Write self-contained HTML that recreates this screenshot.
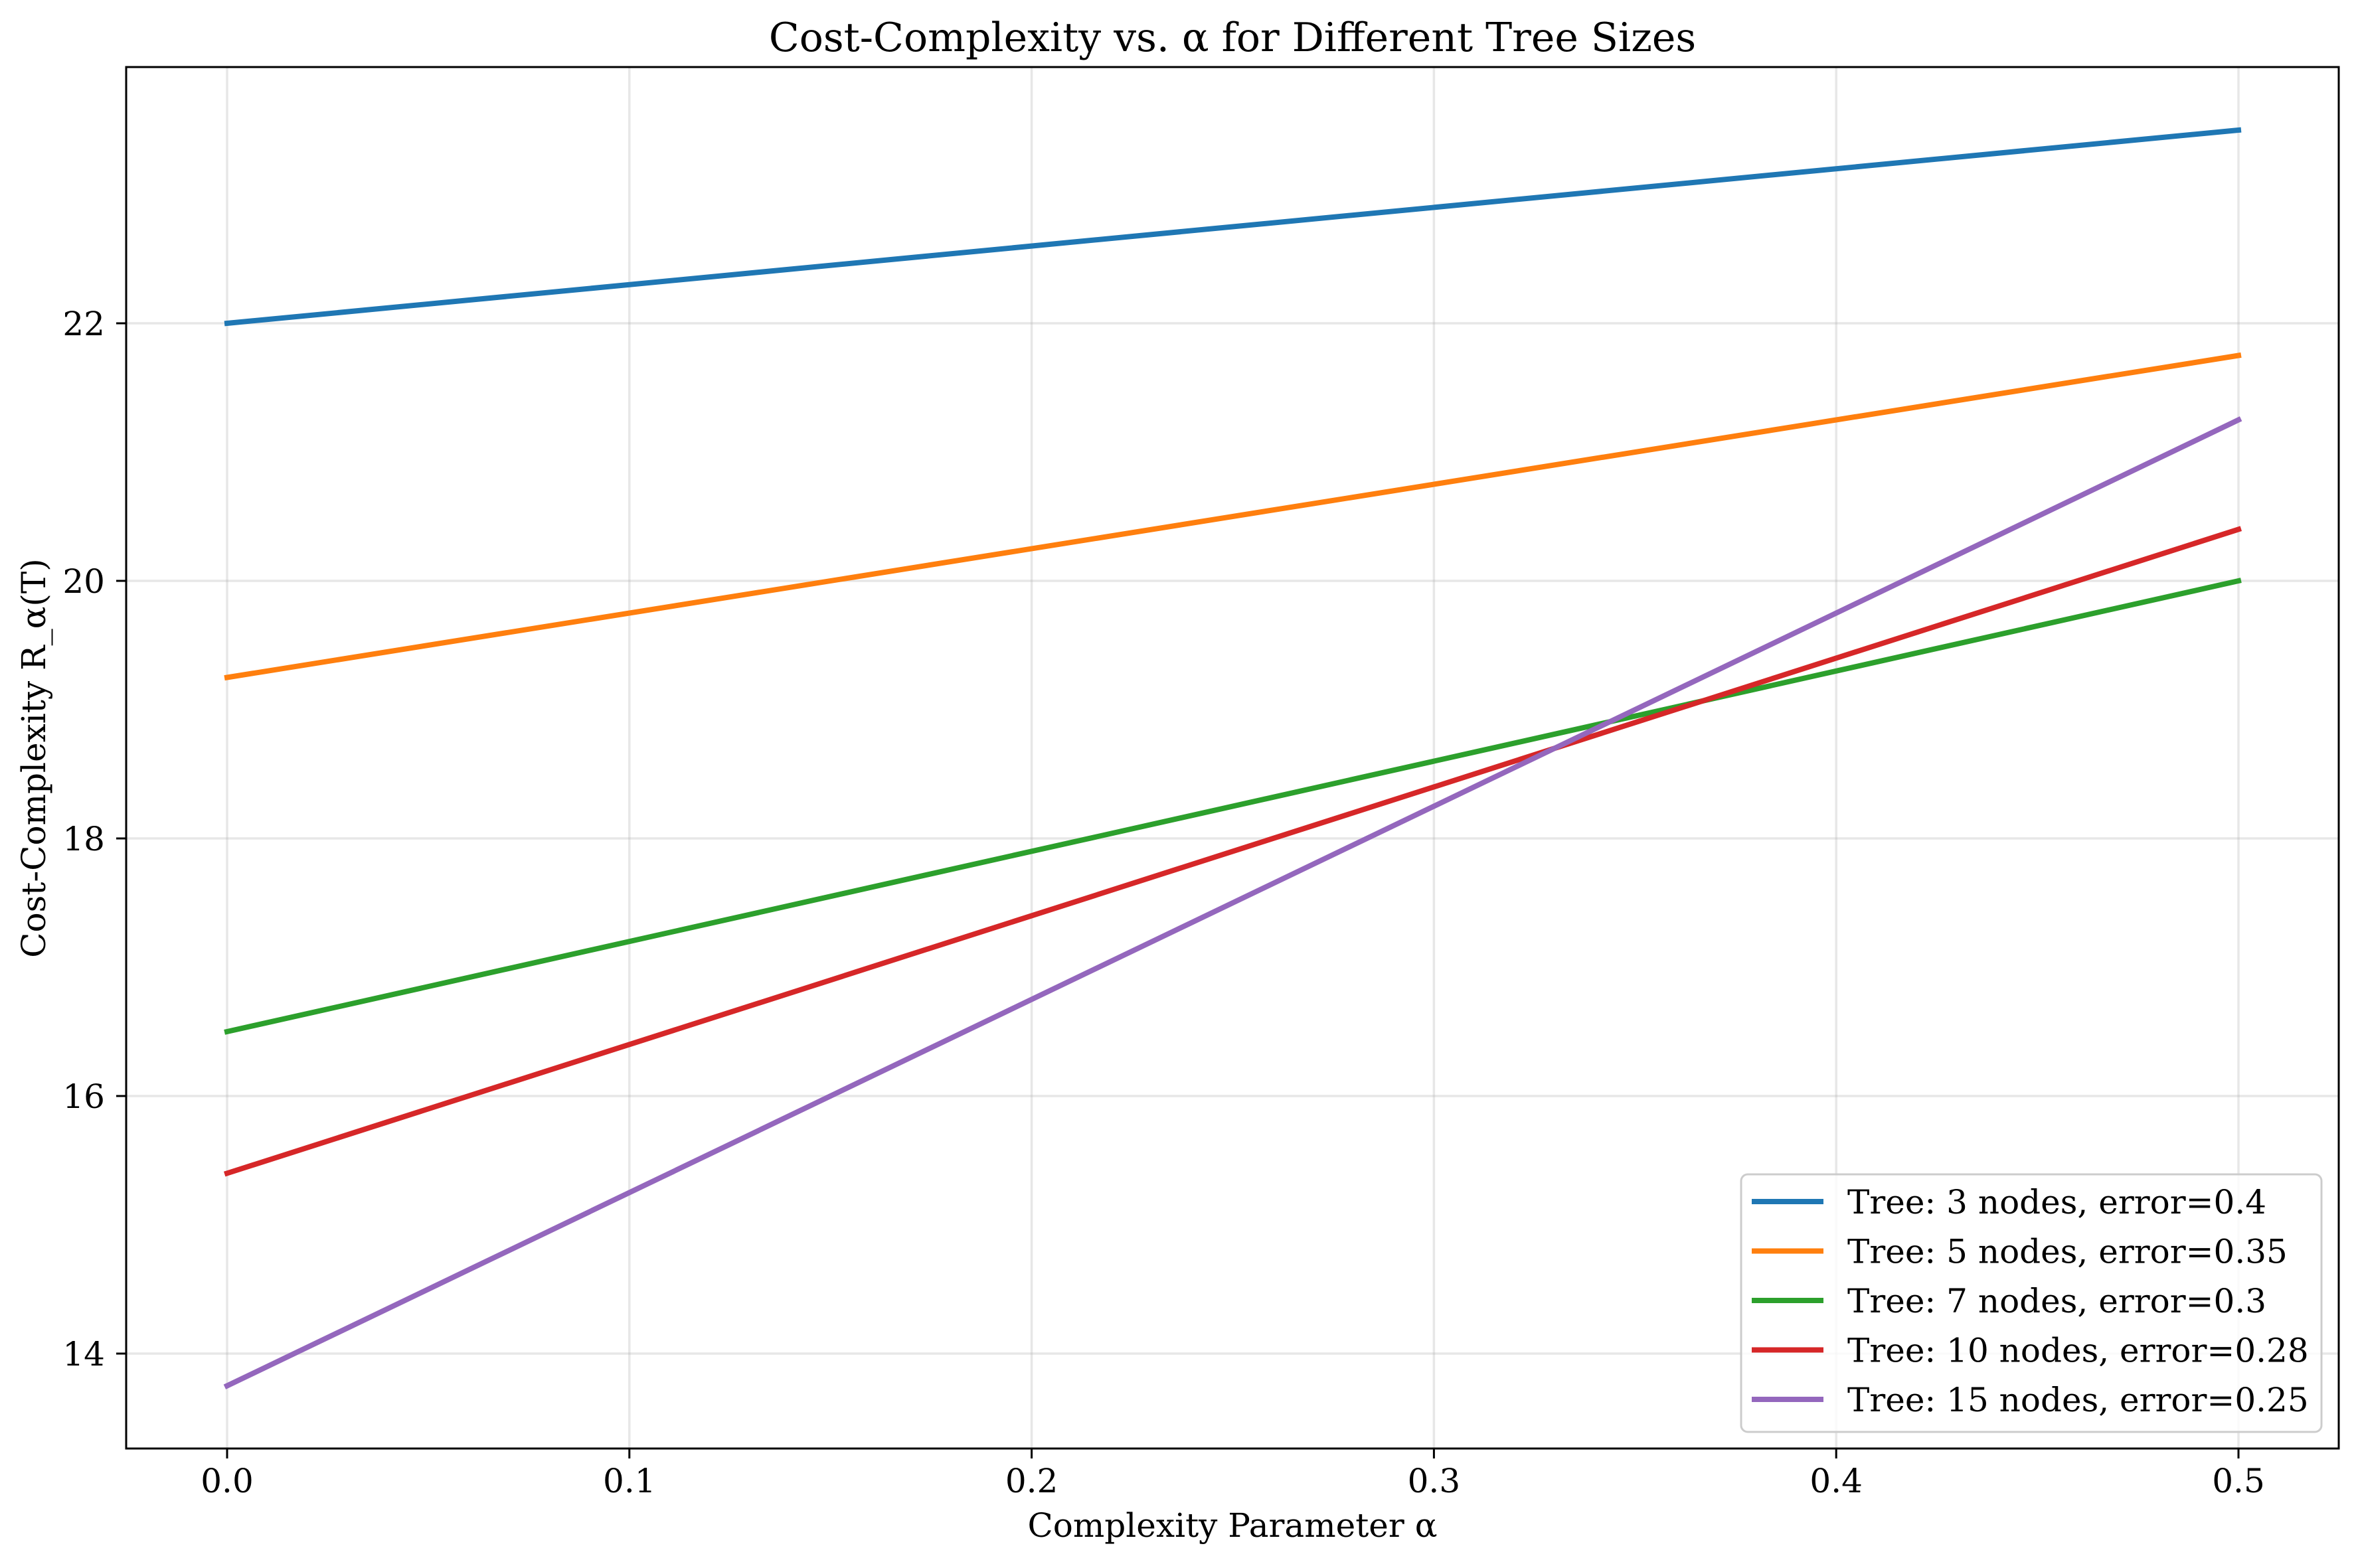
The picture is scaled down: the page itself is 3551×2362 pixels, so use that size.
<!DOCTYPE html>
<html><head><meta charset="utf-8"><style>
html,body{margin:0;padding:0;background:#fff;}
svg text{font-family:"DejaVu Serif","Liberation Serif",serif;fill:#000;}
</style></head><body>
<svg id="chart" width="3551" height="2357" viewBox="0 0 3551 2357" xmlns="http://www.w3.org/2000/svg">
<rect width="3551" height="2357" fill="#fff"/>
<g id="grid"></g>
<g id="lines"></g>
<g id="axes"></g>
<text x="1856" y="77" font-size="60" text-anchor="middle">Cost-Complexity vs. α for Different Tree Sizes</text>
<text x="1856" y="2315" font-size="50" text-anchor="middle">Complexity Parameter α</text>
<text x="0" y="0" font-size="50" text-anchor="middle" transform="translate(68,1142) rotate(-90)">Cost-Complexity R_α(T)</text>
<g id="legend"></g>
</svg>
<script>
const alphas = [0.0, 0.5];
const seriesNames = ["Tree: 3 nodes, error=0.4","Tree: 5 nodes, error=0.35","Tree: 7 nodes, error=0.3","Tree: 10 nodes, error=0.28","Tree: 15 nodes, error=0.25"];
const s3 = [22.0, 23.5];
const s5 = [19.25, 21.75];
const s7 = [16.5, 20.0];
const s10 = [15.4, 20.4];
const s15 = [13.75, 21.25];
const xTicks = [0.0, 0.1, 0.2, 0.3, 0.4, 0.5];
const xTickLabels = ["0.0","0.1","0.2","0.3","0.4","0.5"];
const yTicks = [14, 16, 18, 20, 22];
const yTickLabels = ["14","16","18","20","22"];

const NS = "http://www.w3.org/2000/svg";
const colors = ["#1f77b4","#ff7f0e","#2ca02c","#d62728","#9467bd"];
const L=190, R=3522, T=101, B=2182;
function xs(v){ return 342 + v*6058; }
function ys(v){ return 2039 - (v-14)*194; }
function mk(tag, attrs, parent){ const e=document.createElementNS(NS,tag); for(const k in attrs) e.setAttribute(k,attrs[k]); parent.appendChild(e); return e; }
const grid=document.getElementById('grid'), lines=document.getElementById('lines'), axes=document.getElementById('axes'), legend=document.getElementById('legend');

xTicks.forEach((t,i)=>{
  const g=mk('line',{x1:xs(t),x2:xs(t),y1:T,y2:B,stroke:'#b0b0b0','stroke-opacity':0.3,'stroke-width':3.5},grid);
  
  
  const tk=mk('line',{x1:xs(t),x2:xs(t),y1:B,y2:B+15,stroke:'#000','stroke-width':3},axes);
  
  
  const tx=mk('text',{x:xs(t),y:2248,'font-size':50,'text-anchor':'middle'},axes);
  tx.textContent=xTickLabels[i];
  
  
});
yTicks.forEach((t,i)=>{
  const g=mk('line',{x1:L,x2:R,y1:ys(t),y2:ys(t),stroke:'#b0b0b0','stroke-opacity':0.3,'stroke-width':3.5},grid);
  
  
  const tk=mk('line',{x1:L-15,x2:L,y1:ys(t),y2:ys(t),stroke:'#000','stroke-width':3},axes);
  
  
  const tx=mk('text',{x:158,y:ys(t)+18,'font-size':50,'text-anchor':'end'},axes);
  tx.textContent=yTickLabels[i];
  
  
});
[s3,s5,s7,s10,s15].forEach((s,i)=>{
  const pts=alphas.map((a,j)=>xs(a)+','+ys(s[j])).join(' ');
  const p=mk('polyline',{points:pts,fill:'none',stroke:colors[i],'stroke-width':8,'stroke-linecap':'square'},lines);
  
  
});
const frame=mk('rect',{x:L,y:T,width:R-L,height:B-T,fill:'none',stroke:'#000','stroke-width':3},axes);



const lb=mk('rect',{x:2622,y:1769,width:874,height:388,rx:10,fill:'#fff','fill-opacity':0.8,stroke:'#cccccc','stroke-width':3},legend);


seriesNames.forEach((n,i)=>{
  const cy=1810+i*74.5;
  const h=mk('line',{x1:2638,x2:2746,y1:cy,y2:cy,stroke:colors[i],'stroke-width':8},legend);
  
  
  const t=mk('text',{x:2782,y:cy+18,'font-size':50},legend);
  t.textContent=n;
  
  
});
</script>
</body></html>
